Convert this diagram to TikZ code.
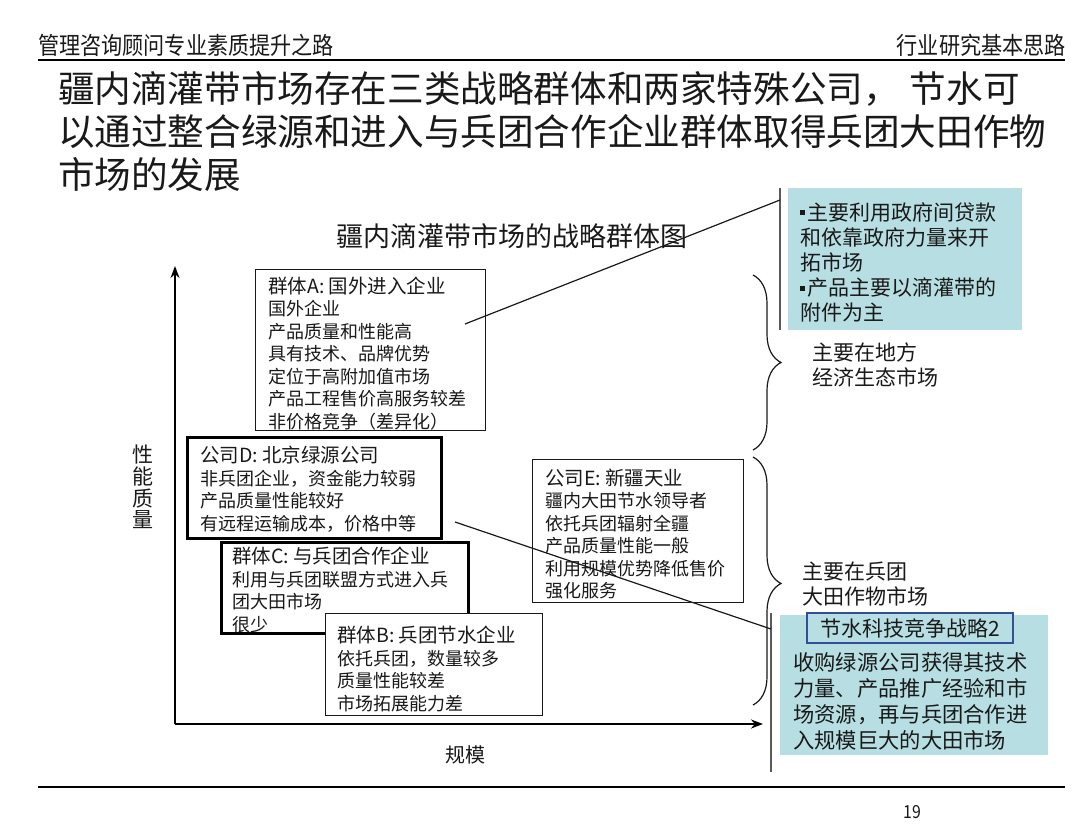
\documentclass[tikz,border=0pt]{standalone}
\usepackage{fontspec}
\setmainfont{Noto Sans CJK SC}
\newfontfamily\hdrfont[FakeStretch=0.88]{Noto Sans CJK SC}
\usetikzlibrary{arrows.meta,decorations.pathreplacing}
\definecolor{ink}{RGB}{25,25,25}
\definecolor{tealbg}{RGB}{183,223,227}
\definecolor{framebl}{RGB}{50,80,150}
\definecolor{rulegray}{RGB}{90,90,90}
\newcommand\sqbul{\rule[5pt]{5pt}{5pt}\hspace{2pt}}
\begin{document}
\begin{tikzpicture}[x=1pt,y=-1pt,
  txt/.style={text=ink, inner sep=0pt, anchor=west, align=left},
  body/.style={txt, font=\fontsize{18}{22.5}\selectfont},
  thinbox/.style={draw=ink, line width=1.1pt, fill=white, anchor=north west, inner sep=0pt},
  thickbox/.style={draw=black, line width=3pt, fill=white, anchor=north west, inner sep=0pt},
  conn/.style={draw=ink, line width=1.2pt},
  axis/.style={draw=black, line width=1.8pt, -{Stealth[length=12pt,width=9pt]}},
  bracestyle/.style={draw=ink, line width=1.2pt, decorate, decoration={brace, amplitude=28pt, aspect=0.5}},
  tealbox/.style={fill=tealbg, anchor=north west, inner sep=0pt},
  hdr/.style={txt, font={\hdrfont\fontsize{24}{24}\selectfont}},
]
\useasboundingbox (0,0) rectangle (1080,835);
\fill[white] (0,0) rectangle (1080,835);

% header
\node[hdr] (hdrL) at (38,45) {管理咨询顾问专业素质提升之路};
\node[hdr, anchor=east] (hdrR) at (1066,45) {行业研究基本思路};
\draw[line width=2pt] (38,60) -- (1065,60);

% title
\node[txt, font=\fontsize{36.6}{43}\selectfont] (title) at (58,131)
  {疆内滴灌带市场存在三类战略群体和两家特殊公司，\hspace{10pt}节水可\\以通过整合绿源和进入与兵团合作企业群体取得兵团大田作物\\市场的发展};

% subtitle
\node[txt, anchor=center, font=\fontsize{27}{27}\selectfont] (sub) at (512,236) {疆内滴灌带市场的战略群体图};

% axes
\coordinate (O) at (175,724);
\coordinate (Ytip) at (175,266);
\coordinate (Xtip) at (763,724);
\draw[axis] (O) -- (Ytip);
\draw[axis] (O) -- (Xtip);
\node[txt, anchor=center, align=center, font=\fontsize{21}{21.7}\selectfont] (ylab) at (143,487) {性\\能\\质\\量};
\node[txt, anchor=center, font=\fontsize{20}{20}\selectfont] (xlab) at (465,755) {规模};

% box A
\node[thinbox, minimum width=230pt, minimum height=161pt] (A) at (255,269) {};
\node[body] (Atxt) at (268,353.5) {{\fontsize{19.5}{22.5}\selectfont 群体A: 国外进入企业}\\国外企业\\产品质量和性能高\\具有技术、品牌优势\\定位于高附加值市场\\产品工程售价高服务较差\\非价格竞争（差异化）};

% box D
\node[thickbox, minimum width=254pt, minimum height=101pt] (D) at (186,436) {};
\node[body] (Dtxt) at (200,489) {{\fontsize{19.5}{22.5}\selectfont 公司D: 北京绿源公司}\\非兵团企业，资金能力较弱\\产品质量性能较好\\有远程运输成本，价格中等};

% box C
\node[thickbox, minimum width=247pt, minimum height=91pt] (C) at (220,541) {};
\node[body] (Ctxt) at (232,590) {{\fontsize{19.5}{22.5}\selectfont 群体C: 与兵团合作企业}\\利用与兵团联盟方式进入兵\\团大田市场\\很少};

% box B
\node[thinbox, minimum width=217pt, minimum height=102pt] (B) at (325,613) {};
\node[body] (Btxt) at (337,669) {{\fontsize{19.5}{22.5}\selectfont 群体B: 兵团节水企业}\\依托兵团，数量较多\\质量性能较差\\市场拓展能力差};

% box E
\node[thinbox, minimum width=211pt, minimum height=143pt] (E) at (532,459) {};
\node[body] (Etxt) at (545,534) {{\fontsize{19.5}{22.5}\selectfont 公司E: 新疆天业}\\疆内大田节水领导者\\依托兵团辐射全疆\\产品质量性能一般\\利用规模优势降低售价\\强化服务};

% upper teal box
\node[tealbox, minimum width=234pt, minimum height=142pt] (T1) at (788,188) {};
\coordinate (T1barTop) at (780,188);
\coordinate (T1barBot) at (780,330);
\draw[rulegray, line width=2pt] (T1barTop) -- (T1barBot);
\node[txt, font=\fontsize{21}{25.2}\selectfont] (T1txt) at (800,262.5)
  {\sqbul 主要利用政府间贷款\\和依靠政府力量来开\\拓市场\\\sqbul 产品主要以滴灌带的\\附件为主};

% lower teal box
\node[tealbox, minimum width=268pt, minimum height=140pt] (T2) at (780,615) {};
\coordinate (T2barTop) at (771,613);
\coordinate (T2barBot) at (771,772);
\draw[rulegray, line width=1.5pt] (T2barTop) -- (T2barBot);
\node[draw=framebl, line width=1.5pt, fill=tealbg, minimum width=206pt, minimum height=30pt, inner sep=0pt, text=ink, font=\fontsize{21}{21}\selectfont] (T2head) at (910,628) {节水科技竞争战略2};
\node[txt, font=\fontsize{21.3}{26}\selectfont] (T2txt) at (793,701)
  {收购绿源公司获得其技术\\力量、产品推广经验和市\\场资源，再与兵团合作进\\入规模巨大的大田市场};

% connectors
\coordinate (aFrom) at (465,324);
\coordinate (T1in) at (780,200);
\draw[conn] (aFrom) -- (T1in);
\coordinate (dFrom) at (455,522);
\coordinate (T2in) at (771,629);
\draw[conn] (dFrom) -- (T2in);

% braces
\coordinate (br1a) at (753,275);
\coordinate (br1b) at (753,450);
\draw[bracestyle] (br1a) -- (br1b);
\coordinate (br2a) at (753,457);
\coordinate (br2b) at (753,705);
\draw[bracestyle, decoration={brace, amplitude=28pt, aspect=0.51}] (br2a) -- (br2b);
\node[txt, font=\fontsize{21}{25}\selectfont] (lab1) at (812,364.5) {主要在地方\\经济生态市场};
\node[txt, font=\fontsize{21}{25}\selectfont] (lab2) at (802,584.5) {主要在兵团\\大田作物市场};

% footer
\draw[line width=2pt] (38,787) -- (1065,787);
\node[txt, anchor=center, font={\hdrfont\fontsize{18}{18}\selectfont}] (pg) at (912,812) {19};
\end{tikzpicture}
\end{document}
